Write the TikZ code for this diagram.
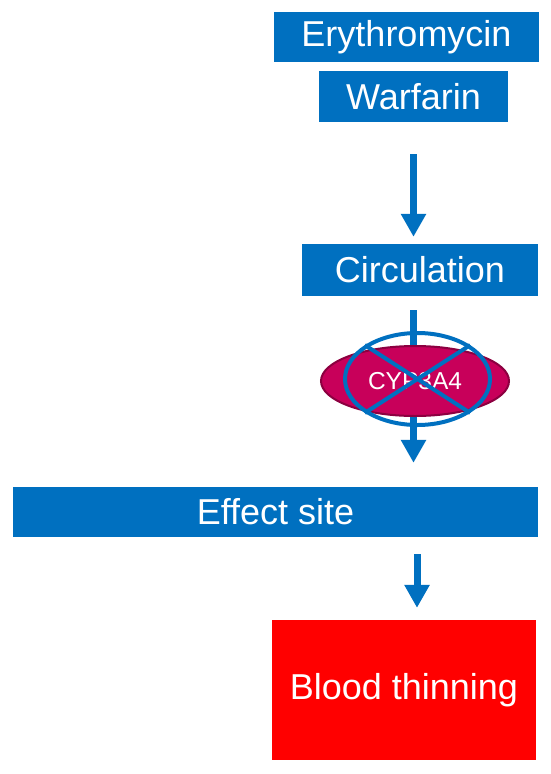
\documentclass[tikz,border=0pt]{standalone}
\usepackage{fontspec}
\setmainfont{Liberation Sans}
\usetikzlibrary{positioning, shapes.geometric, arrows.meta, calc}
\definecolor{drugblue}{RGB}{0,112,192}
\definecolor{enzmag}{RGB}{200,0,90}
\definecolor{enzrim}{RGB}{140,0,64}
\definecolor{effred}{RGB}{255,0,0}

\begin{document}
\begin{tikzpicture}[x=1pt, y=-1pt,
    bar/.style={fill=drugblue, text=white, inner sep=0pt, font=\fontsize{36}{40}\selectfont},
    flow/.style={draw=drugblue, line width=7pt, -{Triangle[width=24pt,length=23pt]}}]
    \useasboundingbox (0,0) rectangle (550,774);

    % drugs and compartments
    \node[bar, minimum width=265pt, minimum height=50pt] (ery) at (406.5,37) {Erythromycin};
    \node[bar, minimum width=189pt, minimum height=51pt] (warf) at (413.5,96.5) {Warfarin};
    \node[bar, minimum width=236pt, minimum height=52pt] (circ) at (420,270) {Circulation};
    \node[bar, minimum width=525pt, minimum height=50pt] (effect) at (275.5,512) {Effect site};
    \node[bar, fill=effred, minimum width=264pt, minimum height=140pt] (blood) at (404,690) {Blood thinning};

    % arrows
    \draw[flow, shorten <=32pt, shorten >=7pt] (warf.south) -- (warf.south |- circ.north);
    \draw[flow, shorten <=14pt, shorten >=24pt] (warf.south |- circ.south) -- (warf.south |- effect.north);
    \draw[flow, shorten <=17pt, shorten >=12pt] ([xshift=13pt]blood.north |- effect.south) -- ([xshift=13pt]blood.north);

    % blocked enzyme
    \node[ellipse, fill=enzmag, draw=enzrim, line width=2pt, text=white, inner sep=0pt,
          minimum width=188pt, minimum height=70pt, font=\fontsize{24.5}{28}\selectfont] (cyp) at (415,381) {CYP3A4};
    \node[ellipse, draw=drugblue, line width=4pt, inner sep=0pt,
          minimum width=145pt, minimum height=92pt] (block) at (417.5,379) {};
    \draw[drugblue, line width=4pt] (block.north west) -- (block.south east);
    \draw[drugblue, line width=4pt] (block.north east) -- (block.south west);
\end{tikzpicture}
\end{document}
